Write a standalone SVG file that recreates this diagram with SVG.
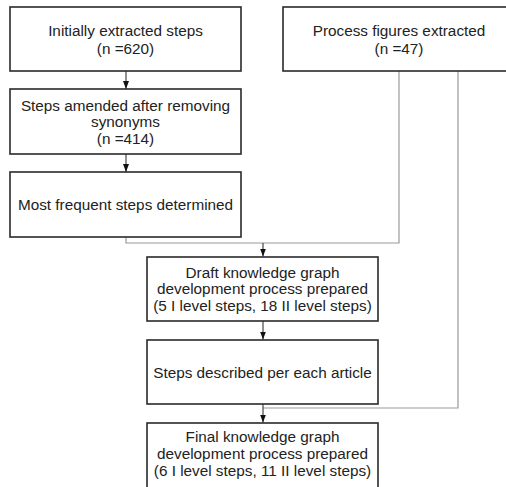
<svg xmlns="http://www.w3.org/2000/svg" width="506" height="487" viewBox="0 0 506 487">
<style>
.box{fill:#fff;stroke:#2a2a2a;stroke-width:1.6}
.t{font-family:"Liberation Sans",Arial,sans-serif;font-size:15.3px;fill:#222;text-anchor:middle}
.c{fill:none;stroke:#999;stroke-width:1.2}
.a{fill:none;stroke:#222;stroke-width:1}
</style>
<defs>
<marker id="ah" markerWidth="8" markerHeight="6" refX="8" refY="3" orient="auto" markerUnits="userSpaceOnUse" viewBox="0 0 8 6">
<path d="M0,0 L8,3 L0,6 Z" fill="#111"/>
</marker>
</defs>
<rect x="0" y="0" width="506" height="487" fill="#fff"/>
<g id="connectors">
<path class="c" d="M126,237 V243 H399 V71"/>
<path class="c" d="M458,71 V408 H263"/>
<line class="a" x1="126" y1="71" x2="126" y2="89" marker-end="url(#ah)"/>
<line class="a" x1="126" y1="154" x2="126" y2="172" marker-end="url(#ah)"/>
<line class="a" x1="263" y1="243" x2="263" y2="256.5" marker-end="url(#ah)"/>
<line class="a" x1="263" y1="321" x2="263" y2="339.5" marker-end="url(#ah)"/>
<line class="a" x1="263" y1="404" x2="263" y2="422.5" marker-end="url(#ah)"/>
</g>
<g id="n1">
<rect class="box" x="10" y="7" width="231" height="64"/>
<text class="t" x="125.5" y="35.5">Initially extracted steps</text>
<text class="t" x="125.5" y="53.5">(n =620)</text>
</g>
<g id="n2">
<rect class="box" x="283" y="7" width="232" height="64"/>
<text class="t" x="399" y="35.5">Process figures extracted</text>
<text class="t" x="399" y="53.5">(n =47)</text>
</g>
<g id="n3">
<rect class="box" x="10" y="89" width="231" height="65"/>
<text class="t" x="125.5" y="110.5">Steps amended after removing</text>
<text class="t" x="125.5" y="127">synonyms</text>
<text class="t" x="125.5" y="143.5">(n =414)</text>
</g>
<g id="n4">
<rect class="box" x="10" y="172" width="231" height="65"/>
<text class="t" x="125.5" y="210">Most frequent steps determined</text>
</g>
<g id="n5">
<rect class="box" x="147" y="257" width="231" height="64"/>
<text class="t" x="262.5" y="277.7">Draft knowledge graph</text>
<text class="t" x="262.5" y="294.4">development process prepared</text>
<text class="t" x="262.5" y="311">(5 I level steps, 18 II level steps)</text>
</g>
<g id="n6">
<rect class="box" x="147" y="340" width="231" height="64"/>
<text class="t" x="262.5" y="377.5">Steps described per each article</text>
</g>
<g id="n7">
<rect class="box" x="147" y="423" width="231" height="70"/>
<text class="t" x="262.5" y="442">Final knowledge graph</text>
<text class="t" x="262.5" y="459">development process prepared</text>
<text class="t" x="262.5" y="476">(6 I level steps, 11 II level steps)</text>
</g>
</svg>
